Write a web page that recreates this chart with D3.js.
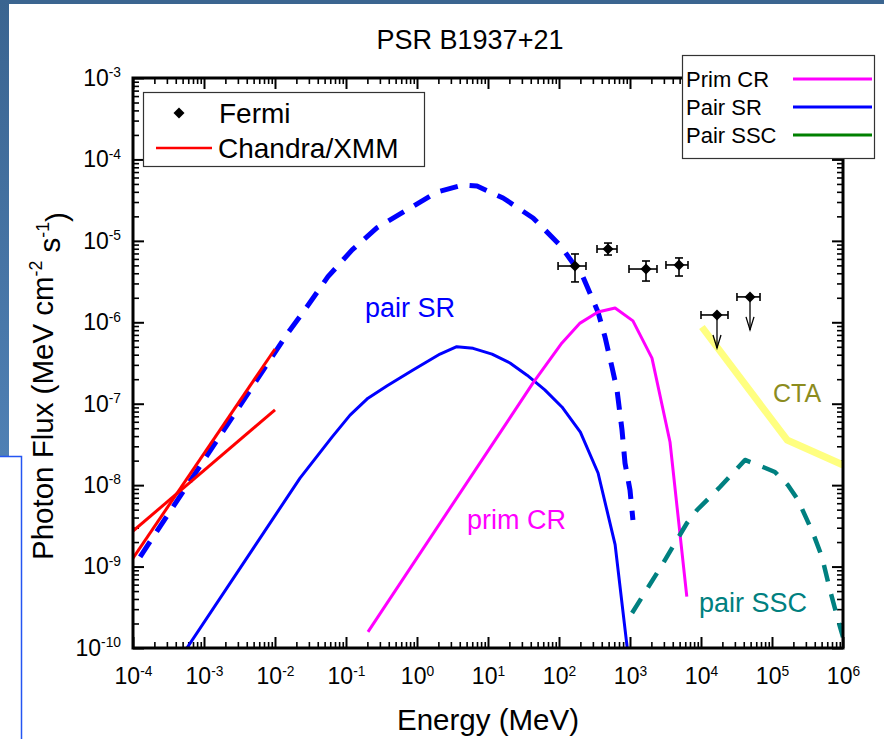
<!DOCTYPE html>
<html>
<head>
<meta charset="utf-8">
<script src="https://cdn.jsdelivr.net/npm/d3@7"></script>
<style>
  body { margin: 0; background: #fff; }
  svg { display: block; font-family: "Liberation Sans", Arial, Helvetica, sans-serif; }
</style>
</head>
<body>
<svg id="chart" width="884" height="739"></svg>
<script>
// ---- data (energy in MeV, photon flux in MeV cm^-2 s^-1) ----
const xTickValues = [1e-4, 1e-3, 1e-2, 1e-1, 1e0, 1e1, 1e2, 1e3, 1e4, 1e5, 1e6];
const yTickValues = [1e-10, 1e-9, 1e-8, 1e-7, 1e-6, 1e-5, 1e-4, 1e-3];

// primary curvature radiation
const primCR = [
  [0.204, 1.58e-10], [43.1, 1.80e-7], [110, 5.57e-7], [198, 9.77e-7],
  [354, 1.34e-6], [617, 1.50e-6], [1100, 1.04e-6], [2040, 3.63e-7],
  [3660, 3.39e-8], [6310, 4.27e-10]
];
// pair synchrotron radiation (solid)
const pairSR = [
  [5.75e-4, 1.0e-10], [0.0225, 1.22e-8], [0.0635, 3.89e-8], [0.114, 7.24e-8],
  [0.204, 1.17e-7], [0.380, 1.66e-7], [0.879, 2.59e-7], [2.11, 4.07e-7],
  [3.63, 5.01e-7], [6.17, 4.79e-7], [11.4, 4.07e-7], [20.4, 3.16e-7],
  [35.5, 2.24e-7], [63.1, 1.48e-7], [110, 9.12e-8], [200, 4.47e-8],
  [355, 1.41e-8], [617, 1.86e-9], [912, 1.02e-10]
];
// pair synchrotron radiation (dashed)
const pairSRHigh = [
  [1.26e-4, 1.32e-9], [0.0152, 7.41e-7], [0.0282, 1.55e-6], [0.0557, 3.63e-6],
  [0.122, 7.76e-6], [0.274, 1.45e-5], [0.723, 2.40e-5], [1.91, 3.98e-5],
  [4.45, 4.85e-5], [7.0, 4.72e-5], [16.3, 3.36e-5], [43.1, 1.91e-5],
  [103, 8.89e-6], [218, 3.60e-6], [354, 1.34e-6], [445, 6.59e-7],
  [557, 2.82e-7], [656, 1.48e-7], [771, 4.79e-8], [851, 1.86e-8],
  [1000, 8.71e-9], [1100, 3.72e-9]
];
// pair synchrotron self-Compton
const pairSSC = [
  [1070, 2.69e-10], [2650, 9.55e-10], [6350, 3.43e-9], [8790, 4.95e-9],
  [18500, 9.48e-9], [41700, 2.04e-8], [74600, 1.67e-8], [110000, 1.45e-8],
  [168000, 1.00e-8], [232000, 6.58e-9], [378000, 2.58e-9], [506000, 1.31e-9],
  [656000, 5.15e-10], [851000, 2.21e-10], [1e6, 1.36e-10]
];
// CTA sensitivity
const cta = [[10300, 8.75e-7], [163000, 3.59e-8], [1e6, 1.77e-8]];
// Chandra/XMM power-law bow tie
const chandraSteep = [[1e-4, 1.27e-9], [1e-2, 4.7e-7]];
const chandraFlat = [[1e-4, 2.73e-9], [1e-2, 8.4e-8]];
// Fermi points: [E, F, Elo, Ehi, Flo, Fhi]
const fermiPoints = [
  [168, 4.91e-6, 97, 240, 3.13e-6, 6.9e-6],
  [490, 7.94e-6, 343, 656, 6.7e-6, 9.4e-6],
  [1680, 4.51e-6, 968, 2400, 3.21e-6, 5.66e-6],
  [4900, 5.06e-6, 3210, 6560, 3.70e-6, 6.17e-6]
];
// Fermi upper limits: [E, F, Elo, Ehi]
const fermiLimits = [
  [16800, 1.23e-6, 10000, 24000],
  [49000, 2.05e-6, 32100, 67800]
];
// in-plot curve labels: [text, E, F, colour, font size]
const curveLabels = [
  ["pair SR", 0.185, 1.16e-6, "#0000ff", 27],
  ["prim CR", 5.06, 2.89e-9, "#ff00ff", 27],
  ["pair SSC", 9380, 2.77e-10, "#008080", 27],
  ["CTA", 103000, 1.05e-7, "#8c8c1e", 25]
];

// ---- layout ----
const W = 884, H = 739;
const plot = { left: 133, top: 78, right: 843, bottom: 648 };
const svg = d3.select("#chart");

// slide backdrop pieces
const defs = svg.append("defs");
const grad = defs.append("linearGradient").attr("id", "bandGrad")
  .attr("x1", 0).attr("y1", 0).attr("x2", 0).attr("y2", 1);
grad.append("stop").attr("offset", "0%").attr("stop-color", "#3a6490");
grad.append("stop").attr("offset", "100%").attr("stop-color", "#4f80b4");
svg.append("rect").attr("x", 0).attr("y", 0).attr("width", W).attr("height", 4).attr("fill", "#3b6590");
svg.append("rect").attr("x", 0).attr("y", 0).attr("width", 9).attr("height", 456).attr("fill", "url(#bandGrad)");
svg.append("path").attr("d", "M0,456.5 H21.5 V739").attr("fill", "none")
  .attr("stroke", "#2456f2").attr("stroke-width", 1.5);

defs.append("clipPath").attr("id", "plotClip").append("rect")
  .attr("x", plot.left).attr("y", plot.top)
  .attr("width", plot.right - plot.left).attr("height", plot.bottom - plot.top);

const x = d3.scaleLog().domain([1e-4, 1e6]).range([plot.left, plot.right]);
const y = d3.scaleLog().domain([1e-10, 1e-3]).range([plot.bottom, plot.top]);

// minor tick values: 2..9 within each decade
function minors(majors) {
  const out = [];
  for (let i = 0; i < majors.length - 1; i++)
    for (let k = 2; k <= 9; k++) out.push(majors[i] * k);
  return out;
}
const xMinor = minors(xTickValues), yMinor = minors(yTickValues);

function superscriptLabels(sel) {
  sel.selectAll(".tick text").each(function (d) {
    const t = d3.select(this);
    t.text("");
    t.append("tspan").text("10");
    t.append("tspan").attr("dy", "-0.62em").attr("font-size", "0.6em")
      .text(Math.round(Math.log10(d)));
  });
}
function styleAxis(g, w) {
  g.select(".domain").remove();
  g.selectAll(".tick line").attr("stroke", "#000").attr("stroke-width", w);
}

const axisFont = 23;
// bottom
svg.append("g").attr("transform", `translate(0,${plot.bottom})`)
  .call(d3.axisBottom(x).tickValues(xMinor).tickSize(-6).tickFormat(""))
  .call(g => styleAxis(g, 1.6));
svg.append("g").attr("transform", `translate(0,${plot.bottom})`)
  .call(d3.axisBottom(x).tickValues(xTickValues).tickSize(-11).tickPadding(20))
  .call(g => styleAxis(g, 2))
  .call(g => g.selectAll(".tick text").attr("font-size", axisFont).attr("fill", "#000")
    .attr("font-family", "Liberation Sans, Arial, sans-serif"))
  .call(superscriptLabels);
// top
svg.append("g").attr("transform", `translate(0,${plot.top})`)
  .call(d3.axisTop(x).tickValues(xMinor).tickSize(-6).tickFormat(""))
  .call(g => styleAxis(g, 1.6));
svg.append("g").attr("transform", `translate(0,${plot.top})`)
  .call(d3.axisTop(x).tickValues(xTickValues).tickSize(-11).tickFormat(""))
  .call(g => styleAxis(g, 2));
// left
svg.append("g").attr("transform", `translate(${plot.left},0)`)
  .call(d3.axisLeft(y).tickValues(yMinor).tickSize(-6).tickFormat(""))
  .call(g => styleAxis(g, 1.6));
svg.append("g").attr("transform", `translate(${plot.left},0)`)
  .call(d3.axisLeft(y).tickValues(yTickValues).tickSize(-11).tickPadding(12))
  .call(g => styleAxis(g, 2))
  .call(g => g.selectAll(".tick text").attr("font-size", axisFont).attr("fill", "#000")
    .attr("font-family", "Liberation Sans, Arial, sans-serif"))
  .call(superscriptLabels);
// right
svg.append("g").attr("transform", `translate(${plot.right},0)`)
  .call(d3.axisRight(y).tickValues(yMinor).tickSize(-6).tickFormat(""))
  .call(g => styleAxis(g, 1.6));
svg.append("g").attr("transform", `translate(${plot.right},0)`)
  .call(d3.axisRight(y).tickValues(yTickValues).tickSize(-11).tickFormat(""))
  .call(g => styleAxis(g, 2));

// ---- curves ----
const line = d3.line().x(d => x(d[0])).y(d => y(d[1]));
const curves = svg.append("g").attr("clip-path", "url(#plotClip)");

function drawLine(data, color, width, dash) {
  curves.append("path").datum(data).attr("d", line)
    .attr("fill", "none").attr("stroke", color).attr("stroke-width", width)
    .attr("stroke-linejoin", "round")
    .attr("stroke-dasharray", dash || null);
}
drawLine(cta, "#ffff80", 7);
drawLine(pairSRHigh, "#0000ff", 5, "18,12");
drawLine(pairSR, "#0000ff", 3);
drawLine(primCR, "#ff00ff", 3);
drawLine(pairSSC, "#008080", 4.5, "17,13");
drawLine(chandraSteep, "#ff0000", 3);
drawLine(chandraFlat, "#ff0000", 3);

// ---- Fermi data ----
const fermi = svg.append("g").attr("stroke", "#000").attr("fill", "#000");
const cap = 4, r = 5.5;
function diamond(g, cx, cy) {
  g.append("path").attr("d", `M${cx},${cy - r}L${cx + r},${cy}L${cx},${cy + r}L${cx - r},${cy}Z`)
    .attr("stroke", "none");
}
fermiPoints.forEach(p => {
  const cx = x(p[0]), cy = y(p[1]);
  const x0 = x(p[2]), x1 = x(p[3]), y0 = y(p[4]), y1 = y(p[5]);
  const g = fermi.append("g").attr("stroke-width", 1.6);
  g.append("line").attr("x1", x0).attr("x2", x1).attr("y1", cy).attr("y2", cy);
  g.append("line").attr("x1", x0).attr("x2", x0).attr("y1", cy - cap).attr("y2", cy + cap);
  g.append("line").attr("x1", x1).attr("x2", x1).attr("y1", cy - cap).attr("y2", cy + cap);
  g.append("line").attr("x1", cx).attr("x2", cx).attr("y1", y0).attr("y2", y1);
  g.append("line").attr("x1", cx - cap).attr("x2", cx + cap).attr("y1", y0).attr("y2", y0);
  g.append("line").attr("x1", cx - cap).attr("x2", cx + cap).attr("y1", y1).attr("y2", y1);
  diamond(g, cx, cy);
});
fermiLimits.forEach(p => {
  const cx = x(p[0]), cy = y(p[1]);
  const x0 = x(p[2]), x1 = x(p[3]);
  const tip = cy + 33;
  const g = fermi.append("g").attr("stroke-width", 1.6).attr("fill", "none");
  g.append("line").attr("x1", x0).attr("x2", x1).attr("y1", cy).attr("y2", cy);
  g.append("line").attr("x1", x0).attr("x2", x0).attr("y1", cy - cap).attr("y2", cy + cap);
  g.append("line").attr("x1", x1).attr("x2", x1).attr("y1", cy - cap).attr("y2", cy + cap);
  g.append("line").attr("x1", cx).attr("x2", cx).attr("y1", cy).attr("y2", tip).attr("stroke-width", 1.3);
  g.append("path").attr("d", `M${cx - 4},${tip - 13}L${cx},${tip}L${cx + 4},${tip - 13}`).attr("stroke-width", 1.3);
  const gd = fermi.append("g");
  diamond(gd, cx, cy);
});

// ---- curve labels ----
svg.append("g").selectAll("text").data(curveLabels).join("text")
  .attr("x", d => x(d[1])).attr("y", d => y(d[2]))
  .attr("font-size", d => d[4])
  .attr("fill", d => d[3]).text(d => d[0]);

// ---- frame ----
svg.append("rect").attr("x", plot.left).attr("y", plot.top)
  .attr("width", plot.right - plot.left).attr("height", plot.bottom - plot.top)
  .attr("fill", "none").attr("stroke", "#000").attr("stroke-width", 3);

// ---- legends ----
const leg1 = svg.append("g");
leg1.append("rect").attr("x", 143.5).attr("y", 92.5).attr("width", 281).attr("height", 74)
  .attr("fill", "#fff").attr("stroke", "#333").attr("stroke-width", 1.2);
diamond(leg1.append("g").attr("fill", "#000"), 179, 113);
leg1.append("text").attr("x", 219).attr("y", 123).attr("font-size", 28).text("Fermi");
leg1.append("line").attr("x1", 156).attr("x2", 212).attr("y1", 148).attr("y2", 148)
  .attr("stroke", "#ff0000").attr("stroke-width", 2.5);
leg1.append("text").attr("x", 218).attr("y", 158).attr("font-size", 28).text("Chandra/XMM");

const leg2Items = [["Prim CR", "#ff00ff"], ["Pair SR", "#0000ff"], ["Pair SSC", "#008000"]];
const leg2 = svg.append("g");
leg2.append("rect").attr("x", 682.5).attr("y", 55.5).attr("width", 192).attr("height", 103)
  .attr("fill", "#fff").attr("stroke", "#333").attr("stroke-width", 1.2);
leg2.selectAll("text").data(leg2Items).join("text")
  .attr("x", 686).attr("y", (d, i) => 87 + i * 28).attr("font-size", 22).text(d => d[0]);
leg2.selectAll("line").data(leg2Items).join("line")
  .attr("x1", 793).attr("x2", 872).attr("y1", (d, i) => 79 + i * 28).attr("y2", (d, i) => 79 + i * 28)
  .attr("stroke", d => d[1]).attr("stroke-width", 3);

// ---- titles ----
svg.append("text").attr("x", 470).attr("y", 49).attr("text-anchor", "middle")
  .attr("font-size", 27).text("PSR B1937+21");
svg.append("text").attr("x", 488).attr("y", 730).attr("text-anchor", "middle")
  .attr("font-size", 29.5).text("Energy (MeV)");
const yt = svg.append("text").attr("transform", "translate(53,560) rotate(-90)")
  .attr("text-anchor", "start").attr("font-size", 29.5);
yt.append("tspan").text("Photon Flux (MeV cm");
yt.append("tspan").attr("dy", "-0.6em").attr("font-size", "0.6em").text("-2");
yt.append("tspan").attr("dy", "0.6em").text(" s");
yt.append("tspan").attr("dy", "-0.6em").attr("font-size", "0.6em").text("-1");
yt.append("tspan").attr("dy", "0.6em").text(")");
</script>
</body>
</html>
